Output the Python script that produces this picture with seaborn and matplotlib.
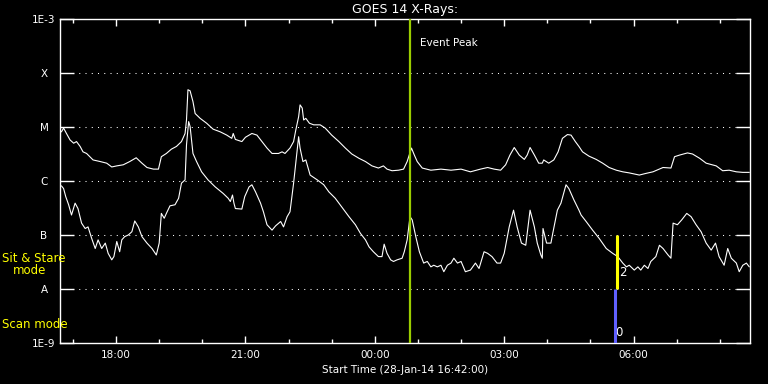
import numpy as np
import pandas as pd
import matplotlib
matplotlib.use("Agg")
import matplotlib.pyplot as plt
import matplotlib.dates as mdates
from matplotlib.ticker import NullLocator
import seaborn as sns

START = pd.Timestamp("2014-01-28 16:42:00")

# GOES long channel (1-8 A): minutes after start, log10 of flux (W/m^2)
long_minutes = [2, 5, 9, 14, 19, 23, 28, 32, 37, 46, 56, 65, 72, 79, 88, 97, 106, 114, 121, 130,
                137, 141, 148, 155, 162, 169, 174, 176, 178, 181, 185, 188, 195, 204, 213, 223, 232,
                239, 241, 244, 253, 258, 267, 274, 281, 288, 295, 304, 309, 313, 320, 325, 328, 332,
                334, 337, 339, 342, 347, 353, 362, 369, 378, 388, 397, 406, 416, 425, 434, 443, 450,
                455, 462, 471, 478, 483, 489, 493, 497, 504, 516, 530, 544, 558, 571, 585, 595, 604,
                613, 620, 626, 632, 639, 646, 650, 654, 660, 666, 671, 673, 680, 687, 693, 699, 706,
                711, 717, 722, 727, 736, 746, 755, 764, 774, 783, 792, 806, 815, 825, 839, 850, 855,
                862, 873, 880, 890, 899, 913, 922, 931, 941, 950, 959]
long_logflux = [-5.09, -5.02, -5.12, -5.24, -5.30, -5.27, -5.36, -5.46, -5.49, -5.61, -5.64, -5.67,
                -5.74, -5.72, -5.70, -5.64, -5.57, -5.67, -5.75, -5.78, -5.78, -5.55, -5.49, -5.41,
                -5.36, -5.27, -5.12, -4.87, -4.31, -4.33, -4.53, -4.75, -4.84, -4.93, -5.04, -5.09,
                -5.15, -5.21, -5.12, -5.23, -5.27, -5.19, -5.12, -5.15, -5.27, -5.39, -5.49, -5.49,
                -5.46, -5.49, -5.39, -5.27, -5.06, -4.81, -4.59, -4.65, -4.87, -4.84, -4.93, -4.96,
                -4.96, -5.02, -5.15, -5.27, -5.39, -5.50, -5.58, -5.64, -5.72, -5.76, -5.72, -5.78,
                -5.81, -5.80, -5.78, -5.64, -5.39, -5.52, -5.64, -5.76, -5.80, -5.78, -5.80, -5.78,
                -5.83, -5.78, -5.75, -5.78, -5.80, -5.70, -5.52, -5.38, -5.52, -5.60, -5.52, -5.38,
                -5.52, -5.67, -5.67, -5.61, -5.67, -5.61, -5.46, -5.21, -5.14, -5.15, -5.27, -5.36,
                -5.46, -5.54, -5.60, -5.67, -5.75, -5.80, -5.83, -5.85, -5.89, -5.86, -5.83, -5.75,
                -5.76, -5.55, -5.52, -5.48, -5.50, -5.58, -5.67, -5.72, -5.81, -5.80, -5.83, -5.84,
                -5.84]

# GOES short channel (0.5-4 A)
short_minutes = [2, 5, 8, 12, 16, 21, 25, 30, 35, 39, 44, 49, 53, 58, 63, 67, 72, 75, 79, 83, 86,
                 90, 95, 100, 104, 109, 114, 121, 128, 134, 138, 141, 145, 148, 153, 160, 165, 169,
                 174, 176, 179, 181, 185, 190, 197, 206, 216, 227, 234, 237, 240, 242, 244, 253,
                 257, 263, 267, 272, 279, 283, 288, 295, 300, 307, 311, 316, 320, 325, 328, 332,
                 334, 338, 342, 348, 358, 367, 374, 383, 392, 402, 411, 418, 425, 430, 436, 443,
                 448, 451, 455, 460, 464, 469, 476, 479, 483, 487, 490, 495, 500, 506, 511, 516,
                 520, 525, 530, 534, 539, 544, 548, 553, 558, 564, 571, 578, 583, 590, 595, 601,
                 608, 613, 618, 625, 631, 636, 642, 648, 654, 660, 664, 669, 671, 672, 677, 683,
                 686, 692, 697, 704, 708, 715, 722, 725, 732, 741, 750, 760, 769, 776, 783, 788,
                 792, 799, 804, 808, 813, 818, 822, 829, 834, 839, 846, 850, 853, 859, 865, 872,
                 878, 885, 892, 899, 906, 912, 917, 924, 929, 934, 941, 945, 950, 955, 959]
short_logflux = [-6.09, -6.14, -6.29, -6.44, -6.63, -6.41, -6.51, -6.78, -6.88, -6.85, -7.06, -7.25,
                 -7.09, -7.25, -7.15, -7.34, -7.46, -7.40, -7.12, -7.31, -7.09, -7.03, -7.00, -6.94,
                 -6.74, -6.85, -7.03, -7.15, -7.25, -7.37, -7.15, -6.60, -6.69, -6.60, -6.46, -6.44,
                 -6.32, -6.04, -5.98, -5.33, -4.90, -4.99, -5.49, -5.64, -5.83, -5.98, -6.11, -6.23,
                 -6.32, -6.38, -6.26, -6.41, -6.51, -6.52, -6.29, -6.11, -6.07, -6.20, -6.41, -6.57,
                 -6.81, -6.91, -6.83, -6.75, -6.85, -6.66, -6.57, -6.04, -5.67, -5.18, -5.39, -5.64,
                 -5.61, -5.89, -5.98, -6.07, -6.20, -6.32, -6.48, -6.66, -6.81, -6.97, -7.09, -7.22,
                 -7.31, -7.40, -7.40, -7.17, -7.34, -7.46, -7.49, -7.46, -7.43, -7.31, -7.09, -6.66,
                 -6.72, -7.03, -7.31, -7.52, -7.49, -7.59, -7.56, -7.59, -7.56, -7.68, -7.56, -7.52,
                 -7.43, -7.52, -7.49, -7.68, -7.65, -7.52, -7.62, -7.31, -7.34, -7.40, -7.52, -7.52,
                 -7.34, -6.85, -6.54, -6.85, -7.15, -7.19, -6.54, -6.85, -7.15, -7.37, -7.43, -6.88,
                 -7.15, -7.15, -6.94, -6.54, -6.41, -6.07, -6.14, -6.35, -6.54, -6.63, -6.75, -6.91,
                 -7.06, -7.25, -7.34, -7.40, -7.52, -7.59, -7.56, -7.65, -7.59, -7.65, -7.56, -7.62,
                 -7.49, -7.40, -7.19, -7.25, -7.37, -7.43, -6.78, -6.81, -6.72, -6.60, -6.66, -6.81,
                 -6.94, -7.15, -7.28, -7.15, -7.40, -7.56, -7.25, -7.43, -7.52, -7.68, -7.56, -7.52,
                 -7.59]

class_levels = [1e-9, 1e-8, 1e-7, 1e-6, 1e-5, 1e-4, 1e-3]
class_labels = ["1E-9", "A", "B", "C", "M", "X", "1E-3"]

event_peak = pd.Timestamp("2014-01-29 00:49")
sit_stare_time = pd.Timestamp("2014-01-29 05:37")
scan_time = pd.Timestamp("2014-01-29 05:34")

df_long = pd.DataFrame({"time": START + pd.to_timedelta(long_minutes, unit="min"),
                        "flux": 10 ** np.array(long_logflux)})
df_short = pd.DataFrame({"time": START + pd.to_timedelta(short_minutes, unit="min"),
                         "flux": 10 ** np.array(short_logflux)})

sns.set_theme(style="dark", rc={"axes.facecolor": "black", "figure.facecolor": "black",
                                "axes.edgecolor": "white", "text.color": "white",
                                "xtick.color": "white", "ytick.color": "white"})
plt.rcParams["font.family"] = ["DejaVu Sans"]

fig = plt.figure(figsize=(7.68, 3.84), dpi=100)
ax = fig.add_axes([60 / 768, 41 / 384, 690 / 768, 324 / 384])

sns.lineplot(data=df_long, x="time", y="flux", color="white", lw=0.8, ax=ax)
sns.lineplot(data=df_short, x="time", y="flux", color="white", lw=0.8, ax=ax)

ax.set_yscale("log")
ax.set_ylim(1e-9, 1e-3)
ax.set_xlim(START, START + pd.Timedelta(hours=16))

# dotted class levels
for lev in class_levels[1:-1]:
    ax.axhline(lev, color="white", lw=0.75, ls=(0, (1, 5)), zorder=1)

ax.set_yticks(class_levels)
ax.set_yticklabels(class_labels)
ax.yaxis.set_minor_locator(NullLocator())
ax.tick_params(axis="y", which="major", direction="in", length=10, width=1, left=True,
               right=True, pad=11.5, labelsize=7.5, colors="white")
for lab in ax.get_yticklabels():
    lab.set_ha("center")

ax.xaxis.set_major_locator(mdates.HourLocator(byhour=range(0, 24, 3)))
ax.xaxis.set_minor_locator(mdates.HourLocator())
ax.xaxis.set_major_formatter(mdates.DateFormatter("%H:%M"))
ax.tick_params(axis="x", which="major", direction="in", length=5, width=1, top=True,
               bottom=True, pad=5, labelsize=7.5, colors="white")
ax.tick_params(axis="x", which="minor", direction="in", length=3, width=1, top=True,
               bottom=True)

for sp in ax.spines.values():
    sp.set_color("white")
    sp.set_linewidth(1.0)

ax.set_ylabel("")
ax.set_xlabel("Start Time (28-Jan-14 16:42:00)", fontsize=7.5, color="white")
ax.xaxis.label.set_va("center")
ax.xaxis.set_label_coords(0.5, -0.083)
ax.set_title("GOES 14 X-Rays:", fontsize=9, color="white", pad=4)

# event peak marker
ax.axvline(event_peak, color="#9acd00", lw=1.6, zorder=3)
ax.annotate("Event Peak", xy=(event_peak, 1e-3), xytext=(10, -24), textcoords="offset pixels",
            ha="left", va="center", fontsize=7.5, color="white")

# observing mode bars
ax.vlines(sit_stare_time, 1e-8, 1e-7, color="yellow", lw=2.2, zorder=4)
ax.vlines(scan_time, 1e-9, 1e-8, color="#6060ff", lw=2.2, zorder=4)
ax.annotate("2", xy=(sit_stare_time, 10 ** -7.69), xytext=(2, 0), textcoords="offset pixels",
            ha="left", va="center", fontsize=8.5, color="white")
ax.annotate("0", xy=(scan_time, 10 ** -8.80), xytext=(0, 0), textcoords="offset pixels",
            ha="left", va="center", fontsize=8.5, color="white")

fig.text(2 / 768, 1 - 259 / 384, "Sit & Stare", color="yellow", ha="left", va="center", fontsize=8.5)
fig.text(13 / 768, 1 - 271 / 384, "mode", color="yellow", ha="left", va="center", fontsize=8.5)
fig.text(2 / 768, 1 - 324 / 384, "Scan mode", color="yellow", ha="left", va="center", fontsize=8.5)

fig.savefig("out.png", dpi=100, facecolor="black")
